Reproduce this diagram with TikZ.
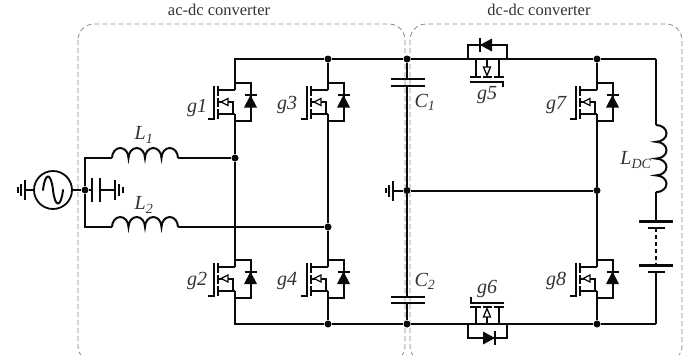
\documentclass[tikz,border=0pt]{standalone}
\usepackage{fontspec}
\setmainfont{Liberation Serif}
\definecolor{wire}{HTML}{0A0A0A}
\definecolor{lab}{HTML}{333333}
\definecolor{boxc}{HTML}{8A8A8A}
\tikzset{
  x=1pt,y=-1pt,
  w/.style={line width=2pt,draw=wire,line join=miter},
  thin w/.style={line width=1.4pt,draw=wire},
  plate/.style={line width=3pt,draw=wire},
  open tip/.style={line width=1.3pt,draw=wire,fill=white},
  group box/.style={draw=boxc,line width=0.8pt,dash pattern=on 5pt off 3pt,rounded corners=16pt},
  jn/.style={circle,fill=wire,inner sep=0pt,minimum size=7pt},
  lbl/.style={text=lab,font=\fontsize{20}{21}\selectfont\itshape,inner sep=0pt},
  ttl/.style={text=lab,font=\fontsize{16.5}{18}\selectfont,inner sep=0pt},
  pics/vfet/.style={code={
    \coordinate (-d) at (0,-12);
    \coordinate (-s) at (0,12);
    \draw[w] (-d)--(-17,-12);
    \draw[w] (-s)--(-17,12);
    \draw[w] (-17,0)--(-2,0)--(-2,12);
    \draw[w] (-17,-16)--(-17,-6) (-17,-4)--(-17,5) (-17,7)--(-17,17);
    \draw[w] (-21,-16)--(-21,17)--(-27,17);
    \draw[open tip] (-14,0)--(-7,-3.5)--(-7,3.5)--cycle;
    \draw[w] (0,-19)--(15.5,-19)--(15.5,19)--(0,19);
    \draw[w] (9.5,-7)--(21.5,-7);
    \fill[wire] (15.5,-7)--(9,5.5)--(22,5.5)--cycle;
  }}
}
\newcommand{\coil}[2]{%
  \draw[w] (#1,#2)
    arc[start angle=-180,end angle=0,x radius=8.25,y radius=10]
    arc[start angle=-180,end angle=0,x radius=8.25,y radius=10]
    arc[start angle=-180,end angle=0,x radius=8.25,y radius=10]
    arc[start angle=-180,end angle=0,x radius=8.25,y radius=10];}
\begin{document}
\begin{tikzpicture}
\useasboundingbox (0,0) rectangle (691,354);
% group boxes
\begin{scope}
\clip (0,0) rectangle (691,354);
\draw[group box] (78,24) rectangle (405,362);
\draw[group box] (410,24) rectangle (682,362);
\end{scope}
\node[ttl] (t1) at (219,10) {ac-dc converter};
\node[ttl] (t2) at (539,10) {dc-dc converter};
% vertical switches
\foreach \p/\nm in {{235,102}/q1,{328,102}/q3,{235,278.5}/q2,{328,278.5}/q4,{597,102}/q7,{597,278.5}/q8}
  \pic (\nm) at (\p) {vfet};
% junctions
\node[jn] (n13) at (328,59) {};
\node[jn] (ntc) at (407,59) {};
\node[jn] (nt7) at (597,59) {};
\node[jn] (na) at (235,158) {};
\node[jn] (nb) at (328,227) {};
\node[jn] (nm) at (407,190.5) {};
\node[jn] (nm7) at (597,190.5) {};
\node[jn] (nb4) at (328,324) {};
\node[jn] (nbc) at (407,324) {};
\node[jn] (nb8) at (597,324) {};
\node[jn] (nin) at (85,190) {};
\coordinate (tl) at (235,59);
\coordinate (bl) at (235,324);
\coordinate (tr) at (656,59);
\coordinate (br) at (656,324);
\coordinate (l1s) at (112,158);
\coordinate (l1e) at (178,158);
\coordinate (l2s) at (112,227);
\coordinate (l2e) at (178,227);
\coordinate (cor1) at (85,158);
\coordinate (cor2) at (85,227);
% rails
\draw[w] (q1-d)--(tl)--(n13)--(ntc)--(nt7)--(tr);
\draw[w] (q2-s)--(bl)--(nb4)--(nbc)--(nb8)--(br);
\draw[w] (q1-s)--(na)--(q2-d);
\draw[w] (n13)--(q3-d) (q3-s)--(nb)--(q4-d) (q4-s)--(nb4);
\draw[w] (nt7)--(q7-d) (q7-s)--(nm7)--(q8-d) (q8-s)--(nb8);
\draw[w] (nm)--(nm7);
% capacitors
\coordinate (c1a) at (407,79); \coordinate (c1b) at (407,86);
\coordinate (c2a) at (407,297); \coordinate (c2b) at (407,303);
\draw[w] (ntc)--(c1a) (c1b)--(nm)--(c2a) (c2b)--(nbc);
\draw[w] (391,79)--(425,79) (391,86)--(425,86);
\draw[w] (391,297)--(425,297) (391,303)--(425,303);
% mid ground
\coordinate (gm) at (393,190.5);
\draw[w] (nm)--(gm);
\draw[w] (393,181)--(393,201);
\draw[w] (389,185)--(389,197);
\draw[w] (385.5,188)--(385.5,193);
% inductors
\draw[w] (nin)--(cor1)--(l1s) (l1e)--(na);
\draw[w] (nin)--(cor2)--(l2s) (l2e)--(nb);
\coil{112}{158}
\coil{112}{227}
% source
\node[circle,draw=wire,line width=1.8pt,minimum size=38pt,inner sep=0pt] (src) at (53,190) {};
\draw[w,line cap=round] (43,190) .. controls (45,172) and (51,172) .. (53,190) .. controls (55,208) and (61,208) .. (63,190);
\coordinate (gs) at (25,190);
\draw[w] (src)--(gs) (src)--(nin);
\draw[w] (25,180)--(25,200) (21,184)--(21,196);
\draw[w] (17.5,187)--(17.5,193);
% input capacitor and ground
\coordinate (ci1) at (92,190); \coordinate (ci2) at (100,190); \coordinate (gi) at (115,190);
\draw[w] (nin)--(ci1) (ci2)--(gi);
\draw[w] (92,178)--(92,202) (100,178)--(100,202);
\draw[w] (115,180)--(115,200) (119,184)--(119,196);
\draw[w] (122.5,187)--(122.5,193);
% g5
\draw[w] (468,59)--(468,45)--(507,45)--(507,59);
\fill[wire] (480,45)--(492,38.5)--(492,51.5)--cycle;
\draw[w] (480,38)--(480,52);
\draw[w] (476,59)--(476,77) (499,59)--(499,77);
\draw[w] (470,77)--(481,77) (482.5,77)--(492,77) (493.5,77)--(504,77);
\draw[w] (470,81.5)--(503,81.5)--(503,87);
\draw[w] (487,59.5)--(487,70);
\draw[open tip] (487,75.5)--(483.5,67)--(490.5,67)--cycle;
% g6
\draw[w] (468,324)--(468,338)--(507,338)--(507,324);
\fill[wire] (495,338)--(483,331.5)--(483,344.5)--cycle;
\draw[w] (495,331)--(495,345);
\draw[w] (476,324)--(476,307) (499,324)--(499,307);
\draw[w] (470,307)--(481,307) (482.5,307)--(492,307) (493.5,307)--(504,307);
\draw[w] (504,302.5)--(471,302.5)--(471,297);
\draw[w] (487,324)--(487,316);
\draw[open tip] (487,308.5)--(483.5,317)--(490.5,317)--cycle;
% DC inductor
\coordinate (lda) at (656,125); \coordinate (ldb) at (656,192);
\draw[w] (tr)--(lda);
\draw[w] (lda)
  arc[start angle=-90,end angle=90,x radius=10.5,y radius=8.4]
  arc[start angle=-90,end angle=90,x radius=10.5,y radius=8.4]
  arc[start angle=-90,end angle=90,x radius=10.5,y radius=8.4]
  arc[start angle=-90,end angle=90,x radius=10.5,y radius=8.4];
% battery
\coordinate (b1) at (656,221); \coordinate (b2) at (656,228);
\coordinate (b3) at (656,265); \coordinate (b4) at (656,272);
\draw[w] (ldb)--(b1) (b4)--(br);
\draw[plate] (639,221)--(673,221) (639,265)--(673,265);
\draw[thin w] (648,228)--(665,228) (648,272)--(665,272);
\draw[w,dash pattern=on 4pt off 3pt] (b2)--(b3);
% labels
\node[lbl] (g1) at (197,108) {g1};
\node[lbl] (g3) at (287,105) {g3};
\node[lbl] (g2) at (197,281) {g2};
\node[lbl] (g4) at (287,281) {g4};
\node[lbl] (g5) at (487,95) {g5};
\node[lbl] (g6) at (487,289) {g6};
\node[lbl] (g7) at (556,105) {g7};
\node[lbl] (g8) at (556,281) {g8};
\node[lbl] (cl1) at (425,102) {C\textsubscript{1}};
\node[lbl] (cl2) at (425,281) {C\textsubscript{2}};
\node[lbl] (ll1) at (144,135) {L\textsubscript{1}};
\node[lbl] (ll2) at (144,205) {L\textsubscript{2}};
\node[lbl] (ll3) at (636,160) {L\textsubscript{DC}};
\end{tikzpicture}
\end{document}
